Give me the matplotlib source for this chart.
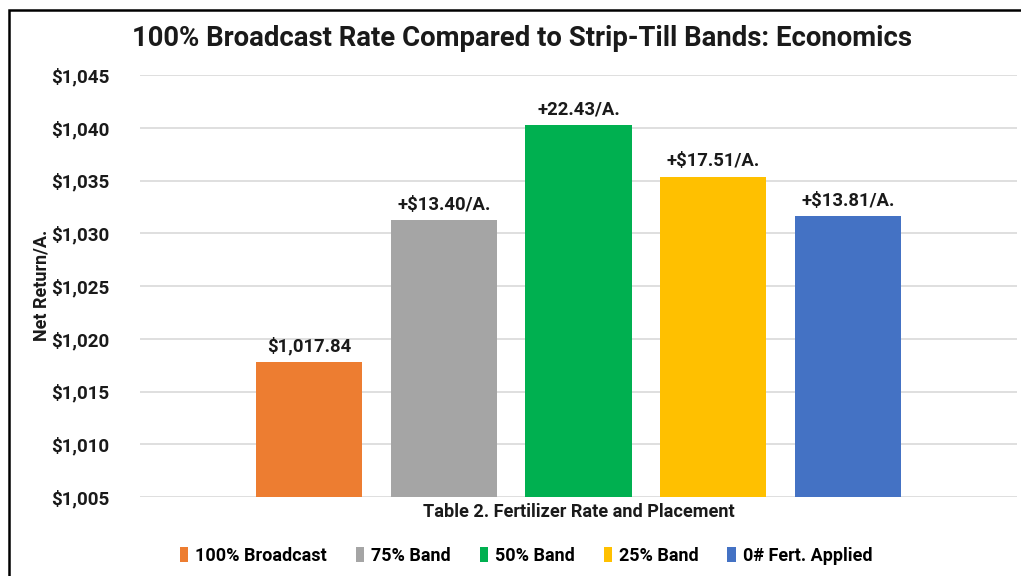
import matplotlib
matplotlib.use("Agg")
import matplotlib.pyplot as plt
from matplotlib.patches import Rectangle, Patch

categories = ["100% Broadcast", "75% Band", "50% Band", "25% Band", "0# Fert. Applied"]
values = [1017.84, 1031.24, 1040.27, 1035.35, 1031.65]
bar_labels = ["$1,017.84", "+$13.40/A.", "+22.43/A.", "+$17.51/A.", "+$13.81/A."]
colors = ["#ED7D31", "#A5A5A5", "#00B050", "#FFC000", "#4472C4"]
yticks = [1005, 1010, 1015, 1020, 1025, 1030, 1035, 1040, 1045]
ytick_labels = ["$1,005", "$1,010", "$1,015", "$1,020", "$1,025", "$1,030", "$1,035", "$1,040", "$1,045"]

plt.rcParams['font.family'] = ['Roboto', 'DejaVu Sans']
plt.rcParams['font.weight'] = 'bold'

W, H = 1021, 576
fig = plt.figure(figsize=(W/100, H/100), dpi=100)
ax = fig.add_axes([140/W, (H-497)/H, (1017-140)/W, (497-75)/H])

x = list(range(len(categories)))
bars = ax.bar(x, [v - 1005 for v in values], bottom=1005, width=0.79, color=colors, zorder=3)
for xi, v, lab in zip(x, values, bar_labels):
    ax.text(xi, v + 0.6, lab, ha='center', va='bottom', fontsize=13.3, fontweight='bold', color='#1a1a1a')

ax.set_ylim(1005, 1045)
ax.set_xlim(-1.254, 5.254)
ax.set_yticks(yticks)
ax.set_yticklabels(ytick_labels, fontsize=13.5, fontweight='bold', color='#1a1a1a')
ax.tick_params(axis='y', length=0, pad=22)
ax.set_xticks([])
ax.grid(axis='y', color='#d9d9d9', linewidth=1.2, zorder=0)
for s in ax.spines.values():
    s.set_visible(False)

fig.text(522/W, 1 - 38/H, "100% Broadcast Rate Compared to Strip-Till Bands: Economics",
         ha='center', va='center', fontsize=19.8, fontweight='bold', color='#1a1a1a')
fig.text(42/W, 1 - 285/H, "Net Return/A.", rotation=90, ha='center', va='center',
         fontsize=13, fontweight='bold', color='#1a1a1a')
fig.text(579/W, 1 - 512/H, "Table 2. Fertilizer Rate and Placement", ha='center', va='center',
         fontsize=13.1, fontweight='bold', color='#1a1a1a')

handles = [Patch(facecolor=c) for c in colors]
fig.legend(handles, categories, loc='center', bbox_to_anchor=(526/W, 1 - 556/H), ncol=5,
           frameon=False, fontsize=13, handlelength=0.45, handleheight=0.9,
           handletextpad=0.4, columnspacing=1.6)

fig.patches.append(Rectangle((9/W, -0.1), 1.2, 1 - 10/H + 0.1, transform=fig.transFigure,
                             fill=False, edgecolor='black', linewidth=1.8))

fig.savefig("out.png", dpi=100, facecolor='white')
